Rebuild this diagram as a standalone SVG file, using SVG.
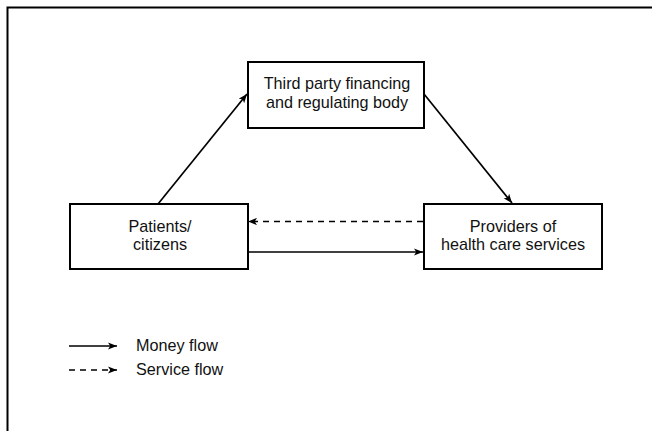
<svg xmlns="http://www.w3.org/2000/svg" width="652" height="431" viewBox="0 0 652 431">
<defs>
<marker id="ah" viewBox="0 0 10 8" refX="10" refY="4" markerWidth="9" markerHeight="7.5" markerUnits="userSpaceOnUse" orient="auto">
<path d="M0,0 L10,4 L0,8 L2.5,4 Z" fill="#000"/>
</marker>
<style>
.box{fill:#fff;stroke:#000;stroke-width:2}
.t{font-family:"Liberation Sans",Arial,sans-serif;font-size:16.2px;fill:#111;text-anchor:middle}
.lt{font-family:"Liberation Sans",Arial,sans-serif;font-size:16.2px;fill:#111}
.c{stroke:#000;stroke-width:1.7;fill:none;marker-end:url(#ah)}
.d{stroke-dasharray:6,5}
</style>
</defs>
<rect x="0" y="0" width="652" height="431" fill="#fff"/>
<rect x="7.5" y="7.5" width="670" height="440" fill="none" stroke="#000" stroke-width="2"/>
<g id="connectors">
<line class="c" x1="158" y1="204" x2="247" y2="94"/>
<line class="c" x1="424" y1="94" x2="512" y2="203"/>
<line class="c d" x1="423" y1="221.5" x2="248" y2="221.5"/>
<line class="c" x1="248" y1="252" x2="423" y2="252"/>
</g>
<g id="third-party">
<rect class="box" x="248" y="62" width="176" height="66"/>
<text class="t" x="337" y="89">Third party financing</text>
<text class="t" x="337" y="108">and regulating body</text>
</g>
<g id="patients">
<rect class="box" x="70" y="204" width="178" height="65"/>
<text class="t" x="160" y="232">Patients/</text>
<text class="t" x="160" y="250">citizens</text>
</g>
<g id="providers">
<rect class="box" x="424" y="204" width="178" height="65"/>
<text class="t" x="513" y="232">Providers of</text>
<text class="t" x="513" y="250">health care services</text>
</g>
<g id="legend">
<line class="c" x1="69" y1="346" x2="117" y2="346"/>
<line class="c d" x1="69" y1="370" x2="117" y2="370"/>
<text class="lt" x="136" y="350.5">Money flow</text>
<text class="lt" x="136" y="374.5">Service flow</text>
</g>
</svg>
